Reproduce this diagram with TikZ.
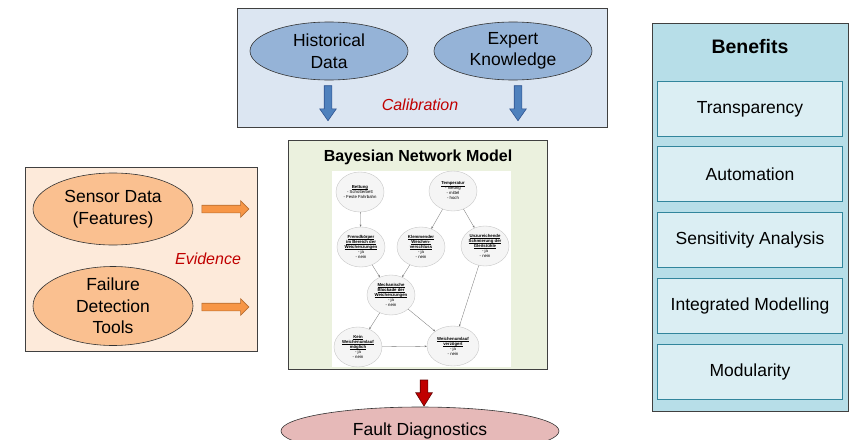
\documentclass[tikz,border=0pt]{standalone}
\usepackage{fontspec}
\setmainfont{Liberation Sans}
\usepackage{xcolor}
\usepackage{tikz}
\usetikzlibrary{shapes.geometric,shapes.arrows,arrows.meta}

\definecolor{calibfill}{HTML}{DCE6F2}
\definecolor{srcfill}{HTML}{95B3D7}
\definecolor{srcarrow}{HTML}{4F81BD}
\definecolor{srcarrowline}{HTML}{2F528F}
\definecolor{evidfill}{HTML}{FDEADA}
\definecolor{evidnode}{HTML}{FAC090}
\definecolor{evidarrow}{HTML}{F79646}
\definecolor{evidarrowline}{HTML}{B66D31}
\definecolor{modelfill}{HTML}{EBF1DE}
\definecolor{faultfill}{HTML}{E6B9B8}
\definecolor{faultarrow}{HTML}{C00000}
\definecolor{benfill}{HTML}{B7DEE8}
\definecolor{benitem}{HTML}{DBEEF3}
\definecolor{benline}{HTML}{31859C}
\definecolor{labelred}{HTML}{C00000}

\newsavebox{\bnbox}
\newcommand{\bnhead}[1]{\sbox{\bnbox}{\textbf{#1}}\rlap{\vrule height -0.6pt depth 0.85pt width \wd\bnbox}\usebox{\bnbox}}

\begin{document}
\begin{tikzpicture}[>=stealth, x=1pt, y=-1pt,
    panel/.style={draw=black!75, line width=0.8pt},
    bigell/.style={ellipse, draw=black!80, line width=0.6pt, minimum width=158, minimum height=58, inner sep=0, align=center, font=\fontsize{17.5}{21.5}\selectfont},
    blockarrow/.style={single arrow, draw, line width=0.6pt, inner sep=3.5, minimum height=#1, minimum width=16, single arrow head extend=4.5, single arrow head indent=0pt},
    bnnode/.style={ellipse, draw=black!22, fill=black!4, minimum width=48, minimum height=40, inner sep=0, align=center, font=\fontsize{4.3}{5}\selectfont},
    bnedge/.style={draw=black!55, line width=0.3pt, -{Stealth[length=2.2pt,width=1.8pt]}},
    benbox/.style={draw=benline, line width=0.8pt, fill=benitem, minimum width=185, minimum height=55, inner sep=0, font=\fontsize{17.5}{21}\selectfont},
    redlabel/.style={text=labelred, font=\fontsize{16}{19}\selectfont\itshape}
  ]

                  \useasboundingbox (0,0) rectangle (851,439);

                  \draw[panel, fill=calibfill] (237,8) rectangle (607,127);
                  \draw[panel, fill=evidfill] (25,167) rectangle (257,351);
                  \draw[panel, fill=modelfill] (288,140) rectangle (547,369);
                  \fill[white] (332,171) rectangle (511,367);
                  \draw[panel, fill=benfill] (652,23) rectangle (848,411);

                  \draw (329,51) node[bigell, fill=srcfill] (hist) {Historical\\Data};
                  \draw (513,51) node[bigell, fill=srcfill] (expert) {Expert\\Knowledge};
                  \draw (328,100.5) node[blockarrow=35, fill=srcarrow, draw=srcarrowline, single arrow tip angle=70, shape border rotate=270] (histarr) {};
                  \draw (518,100.5) node[blockarrow=35, fill=srcarrow, draw=srcarrowline, single arrow tip angle=70, shape border rotate=270] (expertarr) {};
                  \draw (420,105) node[redlabel] (calib) {Calibration};

                  \draw (113,209) node[bigell, fill=evidnode, minimum width=160, minimum height=72] (sensor) {Sensor Data\\(Features)};
                  \draw (113,306) node[bigell, fill=evidnode, minimum width=160, minimum height=74] (failure) {Failure\\Detection\\Tools};
                  \draw (223.5,209) node[blockarrow=47, fill=evidarrow, draw=evidarrowline, single arrow tip angle=90] (sensorarr) {};
                  \draw (223.5,307) node[blockarrow=47, fill=evidarrow, draw=evidarrowline, single arrow tip angle=90] (failurearr) {};
                  \draw (208,259) node[redlabel] (evid) {Evidence};

                  \draw (418,157) node[font=\fontsize{16}{19}\selectfont\bfseries] (bntitle) {Bayesian Network Model};
                  \draw (360,192) node[bnnode] (bett) {\bnhead{Bettung}\\- Schotterbett\\- Feste Fahrbahn};
                  \draw (453,191) node[bnnode] (temp) {\bnhead{Temperatur}\\- niedrig\\- mittel\\- hoch};
                  \draw (361,247) node[bnnode] (fremd) {\bnhead{Fremdkörper}\\\bnhead{im Bereich der}\\\bnhead{Weichenzungen}\\- ja\\- nein};
                  \draw (421,247) node[bnnode] (klemm) {\bnhead{Klemmender}\\\bnhead{Weichen-}\\\bnhead{verschluss}\\- ja\\- nein};
                  \draw (485,246) node[bnnode] (unz) {\bnhead{Unzureichende}\\\bnhead{Schmierung der}\\\bnhead{Gleitstühle}\\- ja\\- nein};
                  \draw (391,295) node[bnnode] (mech) {\bnhead{Mechanische}\\\bnhead{Blockade der}\\\bnhead{Weichenzungen}\\- ja\\- nein};
                  \draw (358,347) node[bnnode] (kein) {\bnhead{Kein}\\\bnhead{Weichenumlauf}\\\bnhead{möglich}\\- ja\\- nein};
                  \draw (453,346) node[bnnode, minimum width=52] (verz) {\bnhead{Weichenumlauf}\\\bnhead{verzögert}\\- ja\\- nein};

                  \draw[bnedge] (bett) -- (fremd);
                  \draw[bnedge] (temp) -- (klemm);
                  \draw[bnedge] (temp) -- (unz);
                  \draw[bnedge] (fremd) -- (mech);
                  \draw[bnedge] (klemm) -- (mech);
                  \draw[bnedge] (mech) -- (kein);
                  \draw[bnedge] (mech) -- (verz);
                  \draw[bnedge] (kein) -- (verz);
                  \draw[bnedge] (unz) -- (verz);

                  \draw (424,390) node[blockarrow=26, fill=faultarrow, draw=black!60!red, single arrow tip angle=64, shape border rotate=270] (faultarr) {};
                  \draw (420,431) node[bigell, fill=faultfill, minimum width=278, minimum height=48] (fault) {Fault Diagnostics};

                  \draw (750,47) node[font=\fontsize{19.5}{23}\selectfont\bfseries] (bentitle) {Benefits};
                  \draw (750,109) node[benbox] (transp) {Transparency};
                  \draw (750,174) node[benbox] (autom) {Automation};
                  \draw (750,240) node[benbox] (sensit) {Sensitivity Analysis};
                  \draw (750,305.5) node[benbox] (integ) {Integrated Modelling};
                  \draw (750,372) node[benbox] (modul) {Modularity};

                \end{tikzpicture}
\end{document}
